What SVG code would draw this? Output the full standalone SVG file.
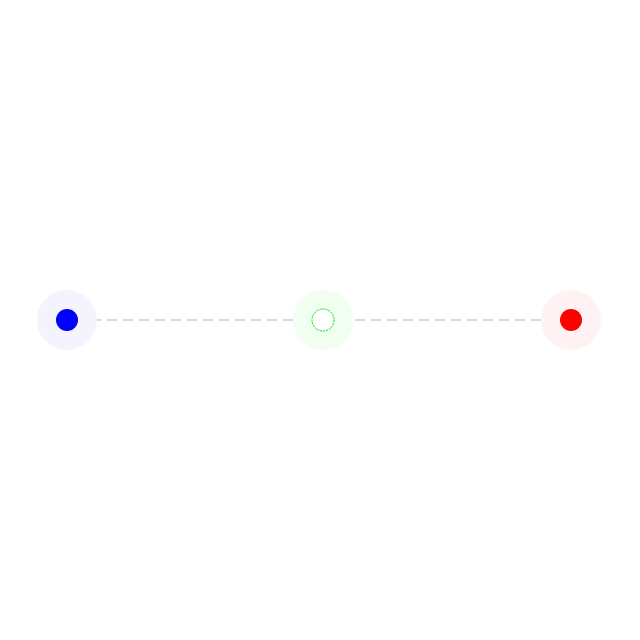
<svg xmlns="http://www.w3.org/2000/svg" width="640" height="640" viewBox="0 0 640 640">
<style>
.halo{stroke:none}
.edge{stroke:#cccccc;stroke-width:1.5;stroke-dasharray:10 6;fill:none}
</style>
<rect width="640" height="640" fill="#ffffff"/>
<g id="connectors">
<line class="edge" x1="293" y1="320" x2="97" y2="320"/>
<line class="edge" x1="541" y1="320" x2="353" y2="320"/>
</g>
<g id="node-blue">
<circle class="halo" cx="67" cy="320" r="30" fill="#f4f4ff"/>
<circle cx="67" cy="320" r="11" fill="#0000ff"/>
</g>
<g id="node-green">
<circle class="halo" cx="323" cy="320" r="30" fill="#f0fff0"/>
<circle cx="323" cy="320" r="11" fill="#ffffff" stroke="#00dd00" stroke-width="1" stroke-dasharray="2 1"/>
</g>
<g id="node-red">
<circle class="halo" cx="571" cy="320" r="30" fill="#fff2f2"/>
<circle cx="571" cy="320" r="11" fill="#ff0000"/>
</g>
</svg>
